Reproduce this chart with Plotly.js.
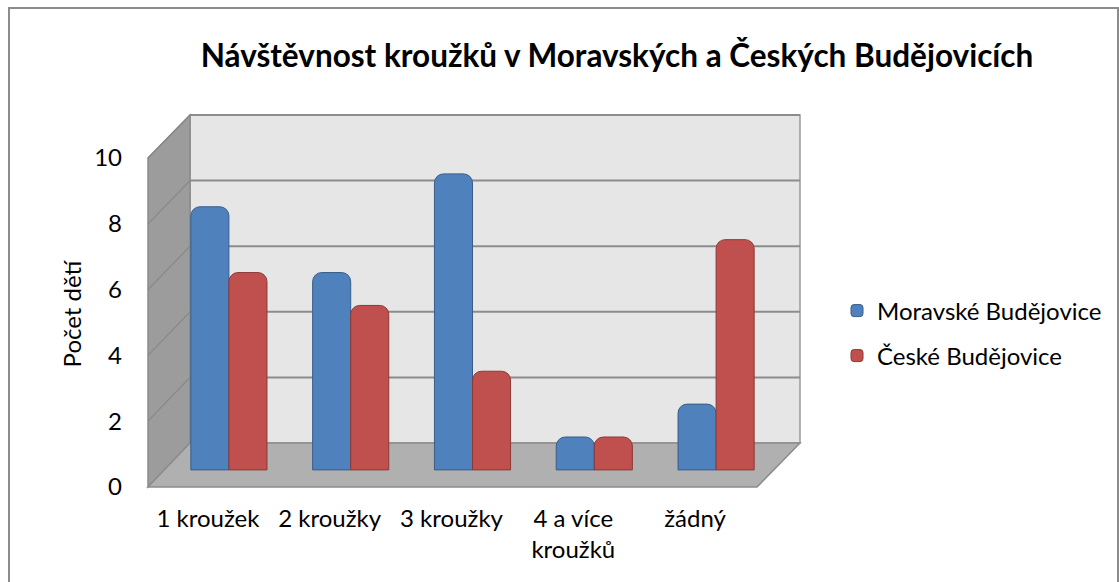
<!DOCTYPE html>
<html>
<head>
<meta charset="utf-8">
<script src="https://cdn.plot.ly/plotly-3.0.1.min.js"></script>
<style>html,body{margin:0;padding:0;background:#fff;}#chart{width:1119px;height:582px;}</style>
</head>
<body>
<div id="chart"></div>
<script>
const categories = ['1 kroužek', '2 kroužky', '3 kroužky', '4 a více<br>kroužků', 'žádný'];
const moravske = [8, 6, 9, 1, 2];
const ceske = [6, 5, 3, 1, 7];
const yTicks = [0, 2, 4, 6, 8, 10];
const seriesNames = ['Moravské Budějovice', 'České Budějovice'];
const chartTitle = 'Návštěvnost kroužků v Moravských a Českých Budějovicích';
const yTitle = 'Počet dětí';

const W = 1119, H = 582;
const px = x => x / W;
const py = y => 1 - y / H;
const FONT = 'Lato, "Open Sans", sans-serif';

// decorative 3D walls (pixel geometry)
const wall = {backL: 190, backR: 800, backTop: 115, backFloor: 443, frontL: 148, frontFloor: 487, frontTop: 158, floorFrontR: 757};
const backY = v => wall.backFloor - v * (wall.backFloor - wall.backTop) / 10;
const frontY = v => wall.frontFloor - v * (wall.frontFloor - wall.frontTop) / 10;
const P = (x, y) => px(x) + ',' + py(y);

const shapes = [];
shapes.push({type: 'rect', xref: 'paper', yref: 'paper', x0: px(9), x1: px(1118), y0: py(8), y1: py(600),
  line: {color: '#8c8c8c', width: 2}, fillcolor: 'rgba(0,0,0,0)', layer: 'below'});
shapes.push({type: 'rect', xref: 'paper', yref: 'paper', x0: px(wall.backL), x1: px(wall.backR), y0: py(wall.backFloor), y1: py(wall.backTop),
  fillcolor: '#e6e6e6', line: {color: '#9a9a9a', width: 1.5}, layer: 'below'});
shapes.push({type: 'path', xref: 'paper', yref: 'paper', layer: 'below',
  path: 'M' + P(wall.frontL, wall.frontTop) + ' L' + P(wall.backL, wall.backTop) + ' L' + P(wall.backL, wall.backFloor) + ' L' + P(wall.frontL, wall.frontFloor) + ' Z',
  fillcolor: '#9c9c9c', line: {color: '#8a8a8a', width: 1.5}});
shapes.push({type: 'path', xref: 'paper', yref: 'paper', layer: 'below',
  path: 'M' + P(wall.frontL, wall.frontFloor) + ' L' + P(wall.backL, wall.backFloor) + ' L' + P(wall.backR, wall.backFloor) + ' L' + P(wall.floorFrontR, wall.frontFloor) + ' Z',
  fillcolor: '#b0b0b0', line: {color: '#8c8c8c', width: 1.5}});
yTicks.forEach(v => {
  if (v > 0) {
    shapes.push({type: 'line', xref: 'paper', yref: 'paper', layer: 'below',
      x0: px(wall.backL), x1: px(wall.backR), y0: py(backY(v)), y1: py(backY(v)), line: {color: '#8c8c8c', width: 2}});
    shapes.push({type: 'line', xref: 'paper', yref: 'paper', layer: 'below',
      x0: px(wall.frontL), x1: px(wall.backL), y0: py(frontY(v)), y1: py(backY(v)), line: {color: '#888888', width: 1.2}});
  }
});

const traces = [
  {type: 'bar', name: seriesNames[0], x: categories, y: moravske, legend: 'legend',
   marker: {color: '#4f81bd', line: {color: '#385d8a', width: 1}, cornerradius: 9}, hoverinfo: 'y'},
  {type: 'bar', name: seriesNames[1], x: categories, y: ceske, legend: 'legend2',
   marker: {color: '#c0504d', line: {color: '#8c3836', width: 1}, cornerradius: 9}, hoverinfo: 'y'}
];

const legendCommon = {xanchor: 'left', yanchor: 'middle', bgcolor: 'rgba(0,0,0,0)', itemwidth: 30,
  font: {family: FONT, size: 24, color: '#000'}};

// bars: base at 470px, 32.9px per unit; axis top (value 10) at 141px
const layout = {
  width: W, height: H,
  margin: {l: 0, r: 0, t: 0, b: 0},
  paper_bgcolor: '#ffffff', plot_bgcolor: 'rgba(0,0,0,0)',
  font: {family: FONT, color: '#000'},
  title: {text: '<b>' + chartTitle + '</b>', x: px(617), y: py(56), xanchor: 'center', yanchor: 'middle', xref: 'paper', yref: 'paper',
    font: {family: FONT, size: 31.5, color: '#000'}},
  barmode: 'group', bargap: 0.375, bargroupgap: 0,
  xaxis: {domain: [px(168), px(777)], type: 'category', showgrid: false, zeroline: false, showline: false, ticks: '',
    ticklabelshift: -21, ticklabelstandoff: 15, tickfont: {family: FONT, size: 24, color: '#000'}, fixedrange: true},
  yaxis: {domain: [py(wall.frontFloor), py(141)], range: [-0.52, 10], tickvals: yTicks, anchor: 'free', position: px(wall.frontL),
    showgrid: false, zeroline: false, showline: false, ticks: '', ticklabelstandoff: 26, ticklabelshift: 17,
    tickfont: {family: FONT, size: 24, color: '#000'},
    title: {text: yTitle, font: {family: FONT, size: 24, color: '#000'}, standoff: 4}, fixedrange: true},
  showlegend: true,
  legend: Object.assign({x: px(837), y: py(311)}, legendCommon),
  legend2: Object.assign({x: px(837), y: py(356)}, legendCommon),
  shapes: shapes
};

Plotly.newPlot('chart', traces, layout, {displayModeBar: false, staticPlot: true});
</script>
</body>
</html>
